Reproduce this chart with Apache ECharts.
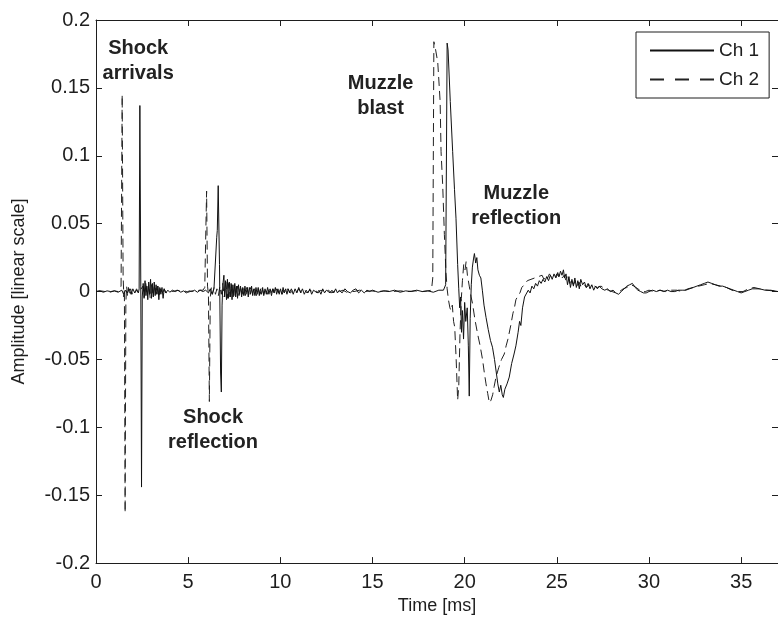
<!DOCTYPE html>
<html>
<head>
<meta charset="utf-8">
<title>Ch 1 / Ch 2 pressure traces</title>
<script src="https://cdn.jsdelivr.net/npm/echarts@6/dist/echarts.min.js"></script>
<style>
  html, body { margin: 0; padding: 0; background: #fff; }
  #chart { width: 778px; height: 620px; }
</style>
</head>
<body>
<div id="chart"></div>
<script>
// Time axis [ms] and amplitude axis [linear scale]
const timeTicks = [0, 5, 10, 15, 20, 25, 30, 35];
const ampTicks = [-0.2, -0.15, -0.1, -0.05, 0, 0.05, 0.1, 0.15, 0.2];
const seriesNames = ['Ch 1', 'Ch 2'];

// Channel 1 trace: [time ms, amplitude]
const ch1Trace = [
  [0,0],[0.2,0.0005],[0.4,-0.0005],[0.6,0.0005],[0.8,0],[1.0,0.0005],[1.2,-0.0005],[1.4,0.001],[1.5,-0.002],
  [1.6,0.001],[1.7,-0.001],[1.8,0.002],[1.9,-0.002],[2.0,0.002],[2.1,-0.001],[2.2,0.001],[2.3,-0.001],
  [2.34,0.002],[2.38,0.137],[2.43,0.004],[2.47,-0.144],[2.51,-0.004],
  [2.56,0.006],[2.61,-0.005],[2.66,0.008],[2.71,-0.003],[2.76,0.004],[2.81,-0.006],[2.86,0.007],[2.91,-0.002],
  [2.96,0.009],[3.01,-0.005],[3.06,0.006],[3.11,-0.004],[3.16,0.007],[3.21,-0.003],[3.26,0.005],[3.31,-0.002],
  [3.36,0.004],[3.41,-0.006],[3.46,0.003],[3.52,-0.002],[3.58,0.003],[3.64,-0.005],[3.70,0.002],[3.78,-0.001],
  [3.9,0.001],[4.0,-0.0005],[4.15,0.001],[4.3,0],[4.45,0.001],[4.6,-0.0005],[4.75,0.0005],[4.9,-0.001],
  [5.05,0.0005],[5.2,0],[5.35,0.001],[5.5,-0.0005],[5.65,0.001],[5.8,0],[5.95,0.001],[6.1,-0.001],
  [6.2,0.002],[6.3,-0.002],[6.4,0.002],[6.5,0.001],
  [6.55,0.040],[6.58,0.045],[6.63,0.078],[6.70,0.020],[6.76,-0.060],[6.80,-0.074],[6.84,-0.010],[6.88,0.005],
  [6.94,0.012],[6.98,-0.004],[7.03,0.008],[7.08,-0.006],[7.13,0.009],[7.18,-0.005],[7.23,0.007],[7.28,-0.004],
  [7.33,0.006],[7.38,-0.006],[7.43,0.005],[7.48,-0.003],[7.53,0.006],[7.58,-0.004],[7.63,0.004],[7.68,-0.005],
  [7.73,0.005],[7.78,-0.002],[7.84,0.004],[7.90,-0.004],[7.96,0.003],[8.02,-0.003],[8.08,0.004],[8.14,-0.002],
  [8.20,0.003],[8.26,-0.004],[8.32,0.003],[8.38,-0.002],[8.44,0.004],[8.50,-0.003],[8.56,0.002],[8.62,-0.003],
  [8.68,0.003],[8.74,-0.002],[8.80,0.003],[8.86,-0.003],[8.92,0.002],[8.98,-0.002],[9.04,0.003],[9.10,-0.003],
  [9.17,0.002],[9.24,-0.002],[9.31,0.003],[9.38,-0.002],[9.45,0.002],[9.52,-0.003],[9.59,0.002],[9.66,-0.001],
  [9.73,0.003],[9.80,-0.002],[9.87,0.002],[9.94,-0.002],[10.01,0.002],[10.08,-0.002],[10.15,0.003],[10.22,-0.001],
  [10.29,0.002],[10.36,-0.002],[10.43,0.002],
  [10.5,-0.001],[10.6,0.002],[10.7,-0.002],[10.8,0.002],[10.9,-0.001],[11.0,0.003],[11.1,-0.001],[11.2,0.002],
  [11.3,-0.002],[11.4,0.001],[11.5,-0.001],[11.6,0.002],[11.7,-0.002],[11.8,0.001],[11.9,0.002],[12.0,-0.001],
  [12.1,0.001],[12.2,-0.002],[12.3,0.002],[12.4,-0.001],[12.5,0.001],[12.6,0.002],[12.7,-0.001],[12.8,0.001],
  [12.9,-0.001],[13.0,0.002],[13.1,-0.001],[13.2,0.001],[13.35,-0.001],[13.5,0.002],[13.65,0],[13.8,-0.001],
  [13.95,0.001],[14.1,0.002],[14.25,-0.001],[14.4,0.001],[14.55,-0.001],[14.7,0.001],[14.85,0],
  [15.0,0.001],[15.3,-0.0005],[15.6,0.0005],[15.9,0],[16.2,0.001],[16.5,-0.0005],[16.8,0.0005],[17.1,0],
  [17.4,0.001],[17.7,0],[18.0,0.0005],[18.3,-0.0005],[18.6,0.001],[18.85,0.001],
  [18.97,0.005],[19.05,0.183],[19.10,0.178],[19.22,0.140],[19.35,0.103],[19.45,0.075],[19.53,0.054],[19.62,0.020],
  [19.68,0.002],[19.73,-0.012],[19.78,-0.004],[19.83,-0.030],[19.88,-0.014],[19.94,-0.035],[20.00,-0.008],[20.06,-0.022],
  [20.14,-0.012],[20.20,-0.040],[20.25,-0.077],[20.30,-0.020],[20.36,0.005],[20.42,0.018],[20.48,0.024],[20.53,0.028],
  [20.60,0.021],[20.66,0.025],[20.72,0.016],[20.80,0.012],[20.88,0.010],[20.96,0.001],[21.05,-0.010],[21.16,-0.019],
  [21.28,-0.028],[21.40,-0.036],[21.51,-0.041],[21.62,-0.050],[21.72,-0.060],[21.80,-0.068],[21.88,-0.074],[21.96,-0.069],
  [22.04,-0.076],[22.10,-0.078],[22.18,-0.072],[22.30,-0.068],[22.42,-0.063],[22.55,-0.053],[22.68,-0.046],[22.78,-0.040],
  [22.90,-0.030],[22.98,-0.022],[23.05,-0.025],[23.14,-0.012],[23.25,-0.004],[23.35,-0.005],[23.45,0.001],[23.55,-0.001],
  [23.65,0.004],[23.75,0.002],[23.85,0.006],[23.95,0.004],[24.05,0.008],[24.15,0.006],[24.25,0.009],[24.35,0.007],
  [24.45,0.011],[24.55,0.008],[24.65,0.012],[24.75,0.009],[24.85,0.013],[24.95,0.010],[25.05,0.014],[25.12,0.011],
  [25.2,0.015],[25.28,0.012],[25.36,0.016],[25.42,0.010],[25.5,0.013],[25.58,0.005],[25.66,0.011],[25.74,0.003],
  [25.82,0.009],[25.9,0.004],[25.98,0.010],[26.06,0.003],[26.14,0.008],[26.22,0.002],[26.3,0.009],[26.4,0.005],
  [26.5,0.007],[26.6,0.003],[26.7,0.006],[26.8,0.002],[26.9,0.005],[27.0,0.001],[27.1,0.004],[27.2,0.002],
  [27.3,0.004],[27.45,0.002],[27.6,0.001],[27.75,0.002],[27.9,0.000],[28.05,0.001],[28.2,-0.001],[28.35,-0.002],
  [28.5,0.000],[28.65,0.002],[28.8,0.004],[28.95,0.005],[29.1,0.006],[29.25,0.003],[29.4,0.001],[29.55,0.000],
  [29.7,-0.001],[29.85,-0.001],[30.0,0.000],[30.2,0.001],[30.4,0.000],[30.6,0.001],[30.8,0.000],[31.0,0.001],
  [31.2,0.000],[31.4,0.000],[31.6,0.001],[31.8,0.001],[32.0,0.001],[32.2,0.002],[32.4,0.003],[32.6,0.004],
  [32.8,0.005],[33.0,0.006],[33.2,0.007],[33.4,0.006],[33.6,0.005],[33.8,0.004],[34.0,0.004],[34.2,0.003],
  [34.4,0.002],[34.6,0.001],[34.8,0.000],[35.0,-0.001],[35.2,0.000],[35.4,0.001],[35.6,0.002],[35.8,0.002],
  [36.0,0.002],[36.3,0.001],[36.6,0.001],[37.0,0.000]
];

// Channel 2 trace: [time ms, amplitude]
const ch2Trace = [
  [0,0],[0.25,0.0005],[0.5,0],[0.75,-0.0005],[1.0,0.0005],[1.2,0],[1.30,0.001],[1.36,0.004],[1.39,0.003],
  [1.42,0.145],[1.47,0.012],[1.51,-0.004],[1.54,0.002],[1.58,-0.163],[1.62,-0.008],[1.66,0.004],[1.71,-0.003],
  [1.76,0.003],[1.82,-0.002],[1.88,0.002],[1.95,-0.002],[2.02,0.001],[2.1,-0.001],[2.2,0.002],[2.3,-0.001],[2.4,0.001],
  [2.55,0.004],[2.62,-0.004],[2.7,0.006],[2.78,-0.003],[2.86,0.005],[2.94,-0.005],[3.02,0.007],[3.1,-0.004],
  [3.18,0.005],[3.26,-0.002],[3.34,0.004],[3.42,-0.004],[3.5,0.002],[3.6,-0.002],[3.7,0.002],[3.8,-0.001],
  [4.0,0.0005],[4.2,0],[4.4,0.001],[4.6,0],[4.8,0.0005],[5.0,-0.0005],[5.2,0.0005],[5.4,0],[5.6,0.001],[5.8,0.001],
  [5.9,0.003],[5.95,0.002],[6.00,0.074],[6.05,0.004],[6.10,-0.002],[6.15,-0.081],[6.20,-0.004],[6.26,0.003],
  [6.32,-0.002],[6.4,0.003],[6.48,-0.002],[6.56,0.002],[6.64,-0.003],[6.72,0.004],[6.8,-0.002],[6.88,0.006],
  [6.96,-0.004],[7.04,0.007],[7.12,-0.005],[7.2,0.006],[7.28,-0.004],[7.36,0.005],[7.44,-0.004],[7.52,0.005],
  [7.6,-0.003],[7.68,0.004],[7.76,-0.003],[7.84,0.004],[7.92,-0.002],[8.0,0.003],[8.1,-0.003],[8.2,0.003],
  [8.3,-0.002],[8.4,0.003],[8.5,-0.002],[8.6,0.002],[8.7,-0.003],[8.8,0.002],[8.9,-0.002],[9.0,0.003],
  [9.1,-0.002],[9.2,0.002],[9.3,-0.002],[9.4,0.002],[9.5,-0.001],[9.6,0.002],[9.7,-0.002],[9.8,0.002],
  [9.9,-0.001],[10.0,0.002],[10.1,-0.002],[10.2,0.001],[10.3,-0.001],[10.4,0.002],[10.55,-0.001],[10.7,0.001],
  [10.85,-0.001],[11.0,0.002],[11.15,-0.001],[11.3,0.001],[11.45,-0.001],[11.6,0.001],[11.75,0],[11.9,0.001],
  [12.05,-0.001],[12.2,0.001],[12.4,0],[12.6,0.001],[12.8,-0.001],[13.0,0.001],[13.2,0],[13.4,0.001],
  [13.6,-0.0005],[13.8,0.0005],[14.0,0],[14.3,0.001],[14.6,0],[14.9,0.0005],[15.3,0],[15.7,0.0005],
  [16.1,0],[16.5,0.0005],[16.9,0],[17.3,0.0005],[17.7,0],[18.0,0.0005],[18.2,0.001],
  [18.27,0.010],[18.33,0.184],[18.40,0.180],[18.54,0.169],[18.67,0.140],[18.72,0.103],[18.81,0.078],[18.90,0.042],
  [18.99,0.013],[19.05,0.002],[19.12,-0.006],[19.20,-0.012],[19.26,-0.014],[19.33,-0.010],[19.40,-0.022],[19.46,-0.026],
  [19.54,-0.050],[19.62,-0.080],[19.68,-0.070],[19.75,-0.030],[19.82,-0.005],[19.88,0.008],[19.95,0.020],[20.02,0.016],
  [20.08,0.022],[20.15,0.012],[20.25,0.004],[20.35,-0.004],[20.43,-0.009],[20.55,-0.020],[20.70,-0.031],[20.84,-0.040],
  [20.97,-0.050],[21.07,-0.060],[21.16,-0.068],[21.25,-0.075],[21.34,-0.082],[21.43,-0.080],[21.52,-0.076],[21.60,-0.070],
  [21.70,-0.063],[21.85,-0.056],[22.00,-0.050],[22.15,-0.046],[22.25,-0.040],[22.35,-0.035],[22.50,-0.025],[22.62,-0.016],
  [22.70,-0.012],[22.78,-0.006],[22.90,-0.003],[23.00,-0.001],[23.10,0.003],[23.20,0.004],[23.30,0.006],[23.40,0.008],
  [23.50,0.007],[23.60,0.009],[23.70,0.008],[23.80,0.010],[23.90,0.009],[24.0,0.011],[24.1,0.010],[24.2,0.012],
  [24.3,0.009],[24.4,0.012],[24.5,0.010],[24.6,0.013],[24.7,0.011],[24.8,0.012],[24.9,0.010],[25.0,0.013],
  [25.1,0.011],[25.2,0.013],[25.3,0.010],[25.4,0.012],[25.5,0.008],[25.6,0.011],[25.7,0.006],[25.8,0.009],
  [25.9,0.005],[26.0,0.008],[26.1,0.004],[26.2,0.007],[26.3,0.004],[26.45,0.006],[26.6,0.003],[26.75,0.005],
  [26.9,0.003],[27.05,0.004],[27.2,0.003],[27.4,0.004],[27.6,0.002],[27.8,0.001],[28.0,0.000],[28.2,-0.001],
  [28.4,0.000],[28.6,0.002],[28.8,0.003],[29.0,0.005],[29.2,0.004],[29.4,0.002],[29.6,0.000],[29.8,0.000],
  [30.0,0.001],[30.3,0.000],[30.6,0.001],[30.9,0.000],[31.2,0.001],[31.5,0.001],[31.8,0.000],[32.1,0.002],
  [32.4,0.003],[32.7,0.004],[33.0,0.005],[33.3,0.006],[33.6,0.005],[33.9,0.004],[34.2,0.003],[34.5,0.001],
  [34.8,0.000],[35.1,0.000],[35.4,0.002],[35.7,0.003],[36.0,0.002],[36.4,0.001],[37.0,0.000]
];

// Event labels, anchored in data coordinates [time ms, amplitude]
const eventLabels = [
  { text: 'Shock\narrivals',   at: [2.29, 0.170] },
  { text: 'Shock\nreflection', at: [6.35, -0.1016] },
  { text: 'Muzzle\nblast',     at: [15.44, 0.144] },
  { text: 'Muzzle\nreflection', at: [22.8, 0.0632] }
];

const FONT = '"Liberation Sans", Arial, Helvetica, sans-serif';
const INK = '#1e1e1e';

const chart = echarts.init(document.getElementById('chart'), null, { renderer: 'canvas' });

const tickInside = { show: true, inside: true, length: 6, lineStyle: { color: INK, width: 1 } };
const axisLine = { show: true, onZero: false, lineStyle: { color: INK, width: 1 } };

chart.setOption({
  animation: false,
  backgroundColor: '#fff',
  textStyle: { fontFamily: FONT },
  grid: { left: 96, top: 20, width: 684, height: 547, containLabel: false },
  xAxis: [
    {
      type: 'value', position: 'bottom',
      min: timeTicks[0], max: 37, interval: 5,
      name: 'Time [ms]', nameLocation: 'middle', nameGap: 32,
      nameTextStyle: { fontSize: 18, color: INK, fontFamily: FONT },
      axisLine, axisTick: tickInside,
      axisLabel: { fontSize: 20, color: INK, margin: 9, showMaxLabel: false, fontFamily: FONT,
        formatter: v => (timeTicks.indexOf(v) >= 0 ? String(v) : '') },
      splitLine: { show: false }
    },
    {
      type: 'value', position: 'top',
      min: timeTicks[0], max: 37, interval: 5,
      axisLine, axisTick: tickInside,
      axisLabel: { show: false }, splitLine: { show: false }
    }
  ],
  yAxis: [
    {
      type: 'value', position: 'left',
      min: ampTicks[0], max: ampTicks[ampTicks.length - 1], interval: 0.05,
      name: 'Amplitude [linear scale]', nameLocation: 'middle', nameGap: 68, nameRotate: 90,
      nameTextStyle: { fontSize: 18, color: INK, fontFamily: FONT },
      axisLine, axisTick: tickInside,
      axisLabel: { fontSize: 20, color: INK, margin: 6, fontFamily: FONT,
        formatter: v => String(Math.round(v * 100) / 100) },
      splitLine: { show: false }
    },
    {
      type: 'value', position: 'right',
      min: ampTicks[0], max: ampTicks[ampTicks.length - 1], interval: 0.05,
      axisLine, axisTick: tickInside, axisLabel: { show: false }, splitLine: { show: false }
    }
  ],
  legend: {
    data: [
      { name: seriesNames[0] },
      { name: seriesNames[1], lineStyle: { type: [14, 11], dashOffset: 0 } }
    ],
    orient: 'vertical',
    left: 636, top: 32,
    padding: [9, 10, 9, 13],
    itemGap: 10,
    itemWidth: 64, itemHeight: 14,
    borderColor: INK, borderWidth: 1, borderRadius: 0,
    backgroundColor: '#fff',
    // line-only keys: hide the marker the line icon carries
    itemStyle: { opacity: 0 },
    textStyle: { fontSize: 19, color: INK, fontFamily: FONT }
  },
  series: [
    {
      name: seriesNames[0], type: 'line', data: ch1Trace,
      symbol: 'none', showSymbol: false, sampling: false, z: 3,
      lineStyle: { color: '#111', width: 1, type: 'solid' },
      itemStyle: { color: '#111' }
    },
    {
      name: seriesNames[1], type: 'line', data: ch2Trace,
      symbol: 'none', showSymbol: false, sampling: false, z: 2,
      lineStyle: { color: '#222', width: 1, type: [9, 5] },
      itemStyle: { color: '#222' }
    }
  ]
});

// Place the event labels through the grid's coordinate system
chart.setOption({
  graphic: eventLabels.map(lbl => {
    const p = chart.convertToPixel({ gridIndex: 0 }, lbl.at);
    return {
      type: 'text', x: p[0], y: p[1], z: 10,
      style: {
        text: lbl.text, fill: '#222', font: 'bold 20px ' + FONT,
        align: 'center', verticalAlign: 'middle', lineHeight: 25
      }
    };
  })
});
</script>
</body>
</html>
